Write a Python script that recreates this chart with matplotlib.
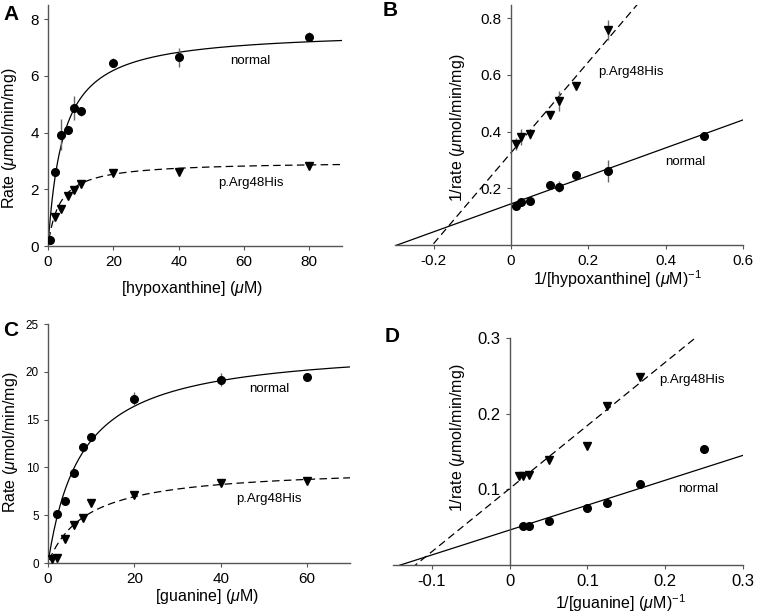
import numpy as np
import matplotlib
matplotlib.use('Agg')
import matplotlib.pyplot as plt

plt.rcParams['font.family'] = ['Liberation Sans', 'DejaVu Sans']
plt.rcParams['mathtext.fontset'] = 'custom'
plt.rcParams['mathtext.rm'] = 'Liberation Sans'
plt.rcParams['mathtext.it'] = 'Liberation Sans:italic'

# --- A: hypoxanthine, rate vs concentration
hx_norm_x = [0.5, 2, 4, 6, 8, 10, 20, 40, 80]
hx_norm_y = [0.22, 2.62, 3.93, 4.09, 4.88, 4.75, 6.47, 6.65, 7.39]
hx_norm_err = [0.0, 0.05, 0.55, 0.1, 0.42, 0.15, 0.15, 0.32, 0.15]
hx_mut_x = [2, 4, 6, 8, 10, 20, 40, 80]
hx_mut_y = [1.01, 1.30, 1.76, 1.97, 2.18, 2.56, 2.62, 2.82]
hx_mut_err = [0.05, 0.08, 0.05, 0.05, 0.05, 0.05, 0.08, 0.1]
hx_fit_norm = (7.62, 4.6)   # Vmax, Km
hx_fit_mut = (2.99, 3.6)

# --- B: hypoxanthine, double reciprocal
hxr_norm_x = [0.0125, 0.025, 0.05, 0.1, 0.125, 0.167, 0.25, 0.5]
hxr_norm_y = [0.138, 0.151, 0.155, 0.212, 0.206, 0.245, 0.261, 0.385]
hxr_norm_err = [0.005, 0.005, 0.005, 0.005, 0.02, 0.005, 0.04, 0.015]
hxr_mut_x = [0.0125, 0.025, 0.05, 0.1, 0.125, 0.167, 0.25]
hxr_mut_y = [0.356, 0.38, 0.39, 0.459, 0.509, 0.561, 0.759]
hxr_mut_err = [0.02, 0.028, 0.015, 0.01, 0.035, 0.01, 0.035]
hxr_line_norm = (0.145, 0.493)   # intercept, slope
hxr_line_mut = (0.325, 1.6)

# --- C: guanine, rate vs concentration
gu_norm_x = [2, 4, 6, 8, 10, 20, 40, 60]
gu_norm_y = [5.15, 6.53, 9.38, 12.16, 13.2, 17.2, 19.17, 19.48]
gu_norm_err = [0.1, 0.1, 0.1, 0.2, 0.3, 0.7, 0.7, 0.2]
gu_mut_x = [1, 2, 4, 6, 8, 10, 20, 40, 60]
gu_mut_y = [0.42, 0.49, 2.54, 4.0, 4.73, 6.29, 7.16, 8.4, 8.58]
gu_mut_err = [0.1, 0.1, 0.1, 0.1, 0.1, 0.1, 0.1, 0.3, 0.2]
gu_fit_norm = (22.8, 7.8)
gu_fit_mut = (10.06, 9.0)

# --- D: guanine, double reciprocal
gur_norm_x = [0.0167, 0.025, 0.05, 0.1, 0.125, 0.167, 0.25]
gur_norm_y = [0.0515, 0.052, 0.0585, 0.0757, 0.0823, 0.107, 0.153]
gur_mut_x = [0.0125, 0.0167, 0.025, 0.05, 0.1, 0.125, 0.167]
gur_mut_y = [0.117, 0.117, 0.119, 0.139, 0.157, 0.21, 0.249]
gur_line_norm = (0.0462, 0.329)
gur_line_mut = (0.101, 0.834)

SP = '#555555'
EC = '#666666'
DASH = (0, (6, 3.5))


def mm(x, p):
    return p[0] * x / (p[1] + x)


def style(ax, yspine_zero=False):
    ax.spines['top'].set_visible(False)
    ax.spines['right'].set_visible(False)
    for s in ('left', 'bottom'):
        ax.spines[s].set_color(SP)
        ax.spines[s].set_linewidth(1.0)
    if yspine_zero:
        ax.spines['left'].set_position(('data', 0))
    ax.tick_params(direction='out', length=3, width=0.8, color=SP, labelsize=11)


def points(ax, x, y, err, marker, ms):
    if err is not None:
        ax.errorbar(x, y, yerr=err, fmt='none', ecolor=EC, elinewidth=1.0, capsize=0, zorder=2)
    ax.plot(x, y, marker, color='black', ms=ms, ls='none', zorder=3)


fig = plt.figure(figsize=(7.6, 6.16), dpi=100)

# A
ax = fig.add_axes([0.0632, 0.6006, 0.3868, 0.3912])
xs = np.linspace(0.3, 90, 400)
ax.plot(xs, mm(xs, hx_fit_norm), color='black', lw=0.9)
ax.plot(xs, mm(xs, hx_fit_mut), color='black', lw=0.9, ls=DASH)
points(ax, hx_norm_x, hx_norm_y, hx_norm_err, 'o', 5.5)
points(ax, hx_mut_x, hx_mut_y, hx_mut_err, 'v', 5.5)
ax.set_xlim(0, 90)
ax.set_ylim(0, 8.5)
ax.set_xticks([0, 20, 40, 60, 80])
ax.set_yticks([0, 2, 4, 6, 8])
style(ax)
ax.set_xlabel(r'[hypoxanthine] ($\mu$M)', fontsize=11.5)
ax.set_ylabel(r'Rate ($\mu$mol/min/mg)', fontsize=11.5)
ax.xaxis.set_label_coords(0.49, -0.137)
ax.yaxis.set_label_coords(-0.099, 0.446)
ax.text(62, 6.52, 'normal', ha='center', va='center', fontsize=9.5)
ax.text(62, 2.22, 'p.Arg48His', ha='center', va='center', fontsize=9.5)

# B
ax = fig.add_axes([0.5197, 0.6023, 0.4579, 0.3896])
xs = np.array([-0.3, 0.6])
ax.plot(xs, hxr_line_norm[0] + hxr_line_norm[1] * xs, color='black', lw=0.9)
ax.plot(xs, hxr_line_mut[0] + hxr_line_mut[1] * xs, color='black', lw=0.9, ls=DASH)
points(ax, hxr_norm_x, hxr_norm_y, hxr_norm_err, 'o', 5.5)
points(ax, hxr_mut_x, hxr_mut_y, hxr_mut_err, 'v', 5.5)
ax.set_xlim(-0.3, 0.6)
ax.set_ylim(0, 0.846)
ax.set_xticks([-0.2, 0, 0.2, 0.4, 0.6])
ax.set_xticklabels(['-0.2', '0', '0.2', '0.4', '0.6'])
ax.set_yticks([0.2, 0.4, 0.6, 0.8])
style(ax, yspine_zero=True)
ax.set_xlabel(r'1/[hypoxanthine] ($\mu$M)$^{-1}$', fontsize=11.5)
ax.set_ylabel(r'1/rate ($\mu$mol/min/mg)', fontsize=11.5)
ax.xaxis.set_label_coords(0.64, -0.096)
ax.yaxis.set_label_coords(0.207, 0.49)
ax.text(0.31, 0.61, 'p.Arg48His', ha='center', va='center', fontsize=9.5)
ax.text(0.451, 0.293, 'normal', ha='center', va='center', fontsize=9.5)

# C
ax = fig.add_axes([0.0632, 0.086, 0.3975, 0.388])
xs = np.linspace(0.3, 70, 400)
ax.plot(xs, mm(xs, gu_fit_norm), color='black', lw=0.9)
ax.plot(xs, mm(xs, gu_fit_mut), color='black', lw=0.9, ls=DASH)
points(ax, gu_norm_x, gu_norm_y, gu_norm_err, 'o', 5.5)
points(ax, gu_mut_x, gu_mut_y, gu_mut_err, 'v', 5.5)
ax.set_xlim(0, 70)
ax.set_ylim(0, 25)
ax.set_xticks([0, 20, 40, 60])
ax.set_yticks([0, 5, 10, 15, 20, 25])
style(ax)
ax.tick_params(axis='y', labelsize=8.5)
ax.set_xlabel(r'[guanine] ($\mu$M)', fontsize=11.5)
ax.set_ylabel(r'Rate ($\mu$mol/min/mg)', fontsize=11.5)
ax.xaxis.set_label_coords(0.525, -0.1)
ax.yaxis.set_label_coords(-0.092, 0.506)
ax.text(51.2, 18.2, 'normal', ha='center', va='center', fontsize=9.5)
ax.text(51.2, 6.74, 'p.Arg48His', ha='center', va='center', fontsize=9.5)

# D
ax = fig.add_axes([0.5171, 0.0828, 0.4605, 0.3685])
xs = np.array([-0.15, 0.3])
ax.plot(xs, gur_line_norm[0] + gur_line_norm[1] * xs, color='black', lw=0.9)
ax.plot(xs, gur_line_mut[0] + gur_line_mut[1] * xs, color='black', lw=0.9, ls=DASH)
points(ax, gur_norm_x, gur_norm_y, None, 'o', 5.5)
points(ax, gur_mut_x, gur_mut_y, None, 'v', 5.5)
ax.set_xlim(-0.15, 0.3)
ax.set_ylim(0, 0.3)
ax.set_xticks([-0.1, 0, 0.1, 0.2, 0.3])
ax.set_xticklabels(['-0.1', '0', '0.1', '0.2', '0.3'])
ax.set_yticks([0.1, 0.2, 0.3])
style(ax, yspine_zero=True)
ax.tick_params(labelsize=12)
ax.set_xlabel(r'1/[guanine] ($\mu$M)$^{-1}$', fontsize=11.5)
ax.set_ylabel(r'1/rate ($\mu$mol/min/mg)', fontsize=11.5)
ax.xaxis.set_label_coords(0.65, -0.122)
ax.yaxis.set_label_coords(0.211, 0.56)
ax.text(0.234, 0.244, 'p.Arg48His', ha='center', va='center', fontsize=9.5)
ax.text(0.242, 0.1, 'normal', ha='center', va='center', fontsize=9.5)

# panel letters
for lab, x, y in [('A', 11, 14), ('B', 390, 10), ('C', 11, 331), ('D', 392, 336)]:
    fig.text(x / 760, 1 - y / 616, lab, fontsize=15, fontweight='bold', ha='center', va='center')

fig.savefig('out.png', dpi=100)
